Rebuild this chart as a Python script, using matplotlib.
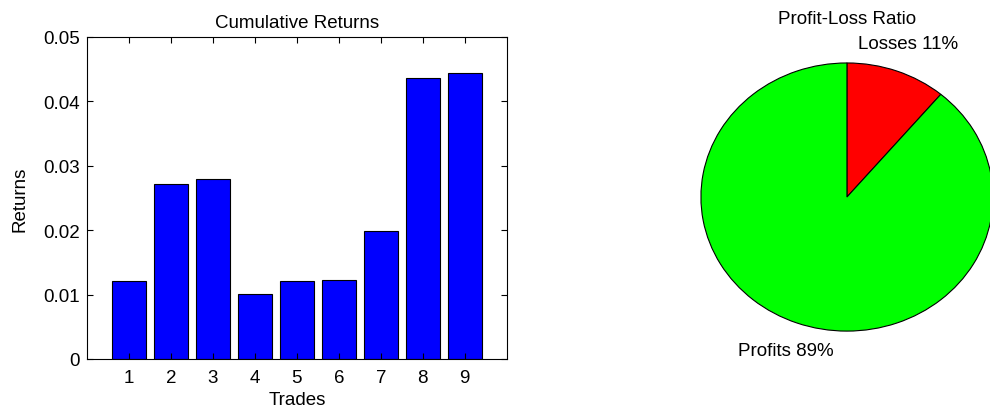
import numpy as np
import matplotlib.pyplot as plt

plt.rcParams['font.family'] = ['Liberation Sans', 'DejaVu Sans']

trades = np.arange(1, 10)
returns = [0.0121, 0.0271, 0.0280, 0.0101, 0.0121, 0.0123, 0.0198, 0.0436, 0.0443]
pie_vals = [1, 8]
pie_labels = ['Losses 11%', 'Profits 89%']
pie_colors = ['#ff0000', '#00ff00']

fs = 13.5
fig = plt.figure(figsize=(9.9, 4.1), dpi=100)

# bar chart
ax1 = fig.add_axes([0.0879, 0.122, 0.424, 0.786])
ax1.bar(trades, returns, width=0.8, color='#0000ff', edgecolor='black', linewidth=0.8)
ax1.set_xlim(0, 10)
ax1.set_ylim(0, 0.05)
ax1.set_xticks(trades)
ax1.set_yticks([0, 0.01, 0.02, 0.03, 0.04, 0.05])
ax1.set_yticklabels(['0', '0.01', '0.02', '0.03', '0.04', '0.05'])
ax1.tick_params(axis='x', direction='in', top=True, length=4, labelsize=fs, pad=7)
ax1.tick_params(axis='y', direction='in', right=True, length=4, labelsize=fs, pad=5)
ax1.set_title('Cumulative Returns', fontsize=fs, pad=7)
ax1.set_xlabel('Trades', fontsize=fs, labelpad=4)
ax1.set_ylabel('Returns', fontsize=fs, labelpad=11)
for s in ax1.spines.values():
    s.set_linewidth(0.8)

# pie chart
ax2 = fig.add_axes([0.708, 0.190, 0.295, 0.654])
wedges, texts = ax2.pie(pie_vals, labels=pie_labels, colors=pie_colors, startangle=90,
                        counterclock=False, labeldistance=1.22,
                        wedgeprops=dict(edgecolor='black', linewidth=0.8),
                        textprops=dict(fontsize=fs))
for t in texts:
    t.set_ha('center')
    t.set_va('center')
for w in wedges:
    w.set_clip_on(False)
ax2.set_aspect('auto')
ax2.set_xlim(-1, 1)
ax2.set_ylim(-1, 1)
ax2.text(0.5, 1.164, 'Profit-Loss Ratio', fontsize=fs, ha='center', va='center',
         transform=ax2.transAxes)

fig.savefig('out.png', dpi=100)
